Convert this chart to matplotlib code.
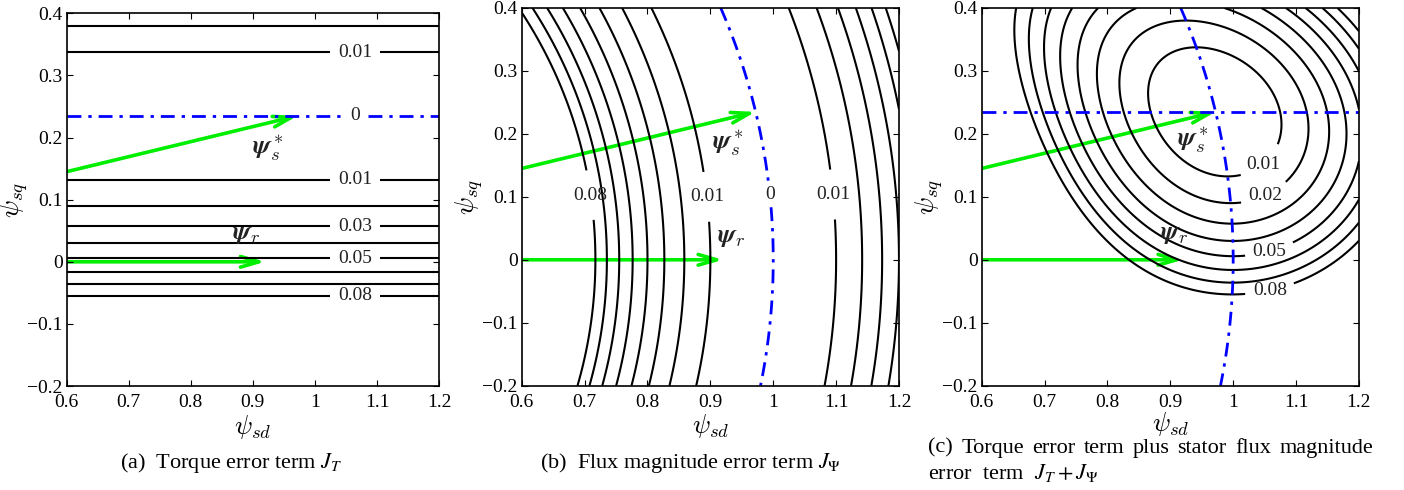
import matplotlib
matplotlib.use('Agg')
import matplotlib.pyplot as plt
import numpy as np
from matplotlib.patches import FancyArrowPatch

# operating point
psi_s_ref = (0.972, 0.235)   # reference stator flux (tip of upper arrow)
psi_r = (0.92, 0.0)          # rotor flux (tip of lower arrow)
flux_ref = 1.0               # reference flux magnitude
torque_gain = 1.06           # puts the J_T = 0.01 lines at 0.133 / 0.338

levels = [0.01, 0.02, 0.03, 0.04, 0.05, 0.06, 0.07, 0.08]

x_ticks = [0.6, 0.7, 0.8, 0.9, 1.0, 1.1, 1.2]
x_tick_labels = ['0.6', '0.7', '0.8', '0.9', '1', '1.1', '1.2']
y_ticks = [-0.2, -0.1, 0.0, 0.1, 0.2, 0.3, 0.4]
y_tick_labels = ['\u22120.2', '\u22120.1', '0', '0.1', '0.2', '0.3', '0.4']

# contour label positions (data coords)
lab_a_levels = [0.01, 0.03, 0.05, 0.08]
lab_a_pos = [(1.065, 0.338), (1.065, 0.133), (1.065, 0.058), (1.065, 0.003), (1.065, -0.055)]
zero_a_pos = [(1.065, 0.235)]
lab_b_levels = [0.01, 0.08]
lab_b_pos = [(0.69, 0.10), (0.894, 0.10), (1.098, 0.104)]
zero_b_pos = [(0.9965, 0.104)]
lab_c_levels = [0.01, 0.02, 0.05, 0.08]
lab_c_pos = [(1.045, 0.155), (1.052, 0.099), (1.057, 0.017), (1.06, -0.056)]

# vector name positions
name_s_pos = [(0.925, 0.183), (0.9285, 0.185), (0.936, 0.19)]
name_r_pos = [(0.89, 0.043), (0.934, 0.034), (0.907, 0.039)]

captions = ['(a)  Torque error term $J_T$', '(b)  Flux magnitude error term $J_\\Psi$']
caption_x = [231.7, 691.0]   # caption centres, pixels
caption_c = ['(c)', 'Torque', 'error', 'term', 'plus', 'stator', 'flux', 'magnitude']
caption_c2 = 'error  term  $J_T + J_\\Psi$'

plt.rcParams['font.family'] = ['Liberation Serif', 'DejaVu Serif']
plt.rcParams['mathtext.fontset'] = 'cm'

# error surfaces
sd, sq = np.meshgrid(np.linspace(0.6, 1.2, 500), np.linspace(-0.2, 0.4, 500))
torque_err = torque_gain * ((psi_r[0] * sq - psi_r[1] * sd) - (psi_r[0] * psi_s_ref[1] - psi_r[1] * psi_s_ref[0]))
flux_err = np.hypot(sd, sq) - flux_ref
J_T = torque_err ** 2
J_F = flux_err ** 2

fig = plt.figure(figsize=(14.04, 4.9), dpi=100)
ax_a = fig.add_axes([0.0475, 0.2122, 0.2652, 0.7606])
ax_b = fig.add_axes([0.3716, 0.2129, 0.2687, 0.7708])
ax_c = fig.add_axes([0.6992, 0.2129, 0.2687, 0.7708])

dashdot = (0, (5, 2.5, 1.2, 2.5))
lab_kw = dict(inline=True, inline_spacing=8, fontsize=14, colors='#222222', fmt='%g')


def labelled_contour(ax, Z, lab_levels, pos):
    rest = [l for l in levels if l not in lab_levels]
    ax.contour(sd, sq, Z, levels=rest, colors='k', linewidths=1.5)
    cs = ax.contour(sd, sq, Z, levels=lab_levels, colors='k', linewidths=1.5)
    for t in cs.clabel(manual=pos, **lab_kw):
        t.set_rotation(0)


def zero_line(ax, Z, pos=None):
    cz = ax.contour(sd, sq, Z, levels=[0.0], colors='#0000ff', linewidths=2, linestyles=[dashdot])
    if pos:
        for t in cz.clabel(manual=pos, **lab_kw):
            t.set_rotation(0)


def draw_arrows(ax):
    for tip in (psi_s_ref, psi_r):
        arr = FancyArrowPatch((0.0, 0.0), tip, arrowstyle='->,head_length=1.2,head_width=0.35',
                              mutation_scale=11, color='#00ee00', lw=2.6, shrinkA=0, shrinkB=0)
        ax.add_patch(arr)


def style(ax, xlab_y):
    ax.set_xlim(0.6, 1.2)
    ax.set_ylim(-0.2, 0.4)
    ax.set_xticks(x_ticks)
    ax.set_xticklabels(x_tick_labels)
    ax.set_yticks(y_ticks)
    ax.set_yticklabels(y_tick_labels)
    ax.tick_params(direction='in', top=True, right=True, length=4, width=0.8, labelsize=14)
    ax.tick_params(axis='x', pad=6)
    ax.tick_params(axis='y', pad=3)
    for sp in ax.spines.values():
        sp.set_linewidth(1.2)
    ax.set_xlabel('$\\psi_{sd}$', fontsize=19)
    ax.set_ylabel('$\\psi_{sq}$', fontsize=19)
    ax.xaxis.set_label_coords(0.5, xlab_y)
    ax.yaxis.set_label_coords(-0.098, 0.5)


# (a) torque term
labelled_contour(ax_a, J_T, lab_a_levels, lab_a_pos)
zero_line(ax_a, torque_err, zero_a_pos)

# (b) flux magnitude term
labelled_contour(ax_b, J_F, lab_b_levels, lab_b_pos)
zero_line(ax_b, flux_err, zero_b_pos)

# (c) sum
labelled_contour(ax_c, J_T + J_F, lab_c_levels, lab_c_pos)
zero_line(ax_c, torque_err)
zero_line(ax_c, flux_err)

for i, (ax, xy) in enumerate(zip([ax_a, ax_b, ax_c], [-0.072, -0.071, -0.064])):
    draw_arrows(ax)
    style(ax, xy)
    ax.text(*name_s_pos[i], '$\\boldsymbol{\\psi}_s^*$', fontsize=19, color='#222222', ha='center', va='center')
    ax.text(*name_r_pos[i], '$\\boldsymbol{\\psi}_r$', fontsize=19, color='#222222', ha='center', va='center')

# captions
for cx, cap in zip(caption_x, captions):
    fig.text(cx / 1404, 1 - 463 / 490, cap, ha='center', va='center', fontsize=16, math_fontfamily='stix')

# justified first line of caption (c)
fig.canvas.draw()
r = fig.canvas.get_renderer()
x0, x1 = 928 / 1404, 1373 / 1404
words = [fig.text(x0, 1 - 448 / 490, w, ha='left', va='center', fontsize=16) for w in caption_c]
widths = [t.get_window_extent(r).width / fig.bbox.width for t in words]
gap = ((x1 - x0) - sum(widths)) / (len(words) - 1)
xpos = x0
for t, w in zip(words, widths):
    t.set_x(xpos)
    xpos += w + gap
fig.text(x0, 1 - 473 / 490, caption_c2, ha='left', va='center', fontsize=16, math_fontfamily='stix')

fig.savefig('out.png', dpi=100)
